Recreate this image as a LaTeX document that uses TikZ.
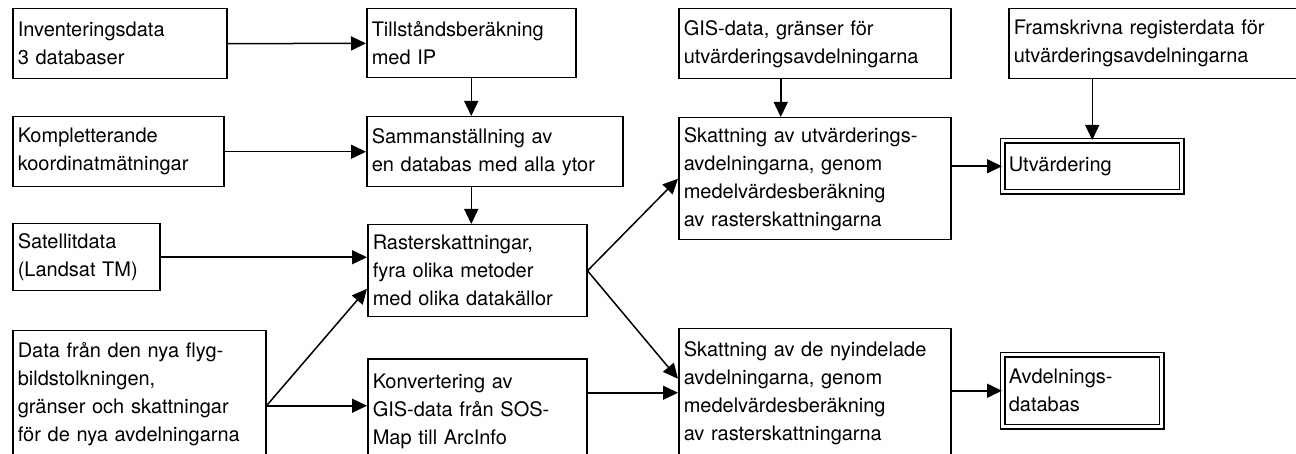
\documentclass[tikz,border=0pt]{standalone}
\usepackage{fontspec}
\setmainfont{TeX Gyre Heros}
\usetikzlibrary{arrows.meta}

\begin{document}
\begin{tikzpicture}[
   x=0.5pt,y=-0.5pt,
   >={Triangle[length=7.5pt,width=7pt]},
   box/.style={draw,line width=0.75pt,anchor=north west,align=left,
               inner xsep=2.5pt,inner ysep=0pt,
               font=\fontsize{10}{14}\selectfont},
   dbl/.style={box,double,double distance=1.6pt,inner xsep=3pt},
   flow/.style={->,line width=0.75pt}
  ]
  \useasboundingbox (0,0) rectangle (1296,454);

  \node[box,text width=102pt,minimum height=35pt]   (inv)  at (12,8)   {Inventeringsdata\\3 databaser};
  \node[box,text width=100.5pt,minimum height=35pt] (komp) at (12,116) {Kompletterande\\koordinatmätningar};
  \node[box,text width=68.5pt,minimum height=33.5pt] (sat) at (12,223) {Satellitdata\\(Landsat TM)};
  \node[box,text width=121.5pt,minimum height=63pt] (flyg) at (12,330)
       {Data från den nya flyg-\\bildstolkningen,\\gränser och skattningar\\för de nya avdelningarna};

  \node[box,text width=99.5pt,minimum height=34.5pt] (tillst) at (366,8) {Tillståndsberäkning\\med IP};
  \node[box,text width=123pt,minimum height=35pt]    (samm)   at (366,116) {Sammanställning av\\en databas med alla ytor};
  \node[box,text width=104.5pt,minimum height=46pt]  (raster) at (367,224)
       {Rasterskattningar,\\fyra olika metoder\\med olika datakällor};
  \node[box,text width=104.5pt,minimum height=52.5pt] (konv)  at (367,358)
       {Konvertering av\\GIS-data från SOS-\\Map till ArcInfo};

  \node[box,text width=131pt,minimum height=35pt] (gis)   at (678,8) {GIS-data, gränser för\\utvärderingsavdelningarna};
  \node[box,text width=131pt,minimum height=61pt] (skutv) at (678,117)
       {Skattning av utvärderings-\\avdelningarna, genom\\medelvärdesberäkning\\av rasterskattningarna};
  \node[box,text width=131pt,minimum height=64pt] (sknya) at (678,328)
       {Skattning av de nyindelade\\avdelningarna, genom\\medelvärdesberäkning\\av rasterskattningarna};

  \node[box,text width=146pt,minimum height=35pt] (fram) at (1008,8) {Framskrivna registerdata för\\utvärderingsavdelningarna};
  \node[dbl,text width=83.5pt,minimum height=25.5pt] (utv) at (1002,140) {Utvärdering};
  \node[dbl,text width=73.5pt,minimum height=36pt]   (avd) at (1002,354) {Avdelnings-\\databas};

  \coordinate (fork) at ([yshift=-6pt]flyg.east);

  \draw[flow] (inv)  -- (tillst);
  \draw[flow] (komp) -- (samm);
  \draw[flow] (sat.east) -- (sat.east -| raster.west);
  \draw[flow] (tillst.south) -- (tillst.south |- samm.north);
  \draw[flow] (samm.south -| tillst.south) -- (raster.north -| tillst.south);
  \draw[flow] (fork) -- ([yshift=-9pt]raster.west);
  \draw[flow] (fork) -- (fork -| konv.west);
  \draw[flow] (raster.east) -- (skutv.west);
  \draw[flow] (raster.east) -- ([yshift=7pt]sknya.west);
  \draw[flow] (sknya.west -| konv.east) -- (sknya.west);
  \draw[flow] ([xshift=-17pt]gis.south) -- ([xshift=-17pt]gis.south |- skutv.north);
  \draw[flow] (utv.north |- fram.south) -- (utv.north);
  \draw[flow] (utv.west -| skutv.east) -- (utv.west);
  \draw[flow] (avd.west -| sknya.east) -- (avd.west);
\end{tikzpicture}
\end{document}
